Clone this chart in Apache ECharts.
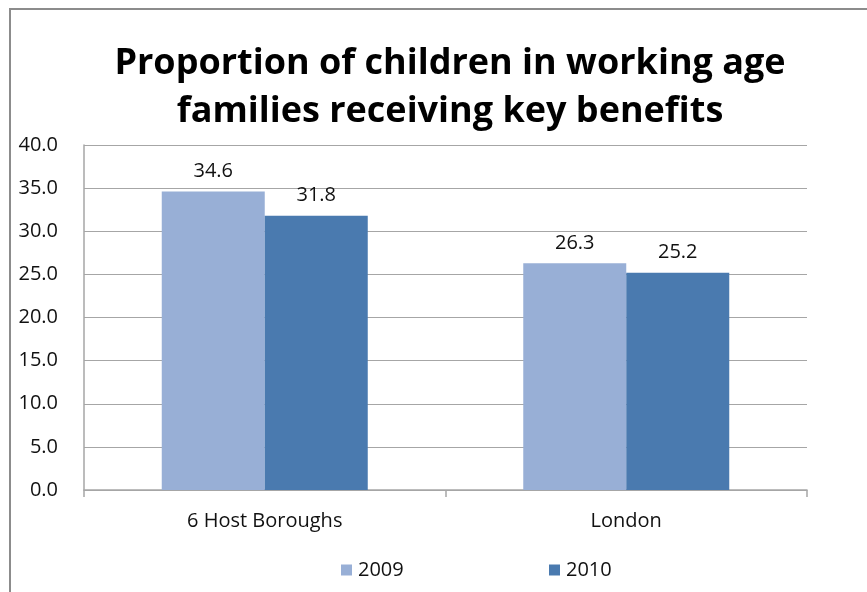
<!DOCTYPE html>
<html>
<head>
<meta charset="utf-8">
<script src="https://cdn.jsdelivr.net/npm/echarts@6/dist/echarts.min.js"></script>
<style>
  html, body { margin: 0; padding: 0; background: #fff; }
  #chart { width: 867px; height: 592px; }
</style>
</head>
<body>
<div id="chart"></div>
<script>
// data
const categories = ['6 Host Boroughs', 'London']
const years = ['2009', '2010']
const values2009 = [34.6, 26.3]
const values2010 = [31.8, 25.2]
const yTicks = { min: 0, max: 40, interval: 5 }

const colors = ['#98AFD6', '#4A7AAF']
const font = 'Open Sans, Liberation Sans, sans-serif'
const textColor = '#111'

const myChart = echarts.init(document.getElementById('chart'))

const labelStyle = {
  show: true,
  position: 'top',
  distance: 10,
  color: textColor,
  fontSize: 20,
  fontFamily: font,
  formatter: p => p.value.toFixed(1)
}

const legendText = { fontSize: 20, color: textColor, fontFamily: font, padding: [0, 0, 0, 1] }

const option = {
  backgroundColor: '#fff',
  animation: false,
  color: colors,
  title: {
    text: 'Proportion of children in working age\nfamilies receiving key benefits',
    left: 445,
    textAlign: 'center',
    top: 35,
    textStyle: { fontSize: 36, fontWeight: 'bold', color: '#000', fontFamily: font, lineHeight: 48 }
  },
  legend: [
    {
      data: [years[0]],
      left: 336, top: 555,
      itemWidth: 11, itemHeight: 11, icon: 'rect',
      textStyle: legendText
    },
    {
      data: [years[1]],
      left: 544, top: 555,
      itemWidth: 11, itemHeight: 11, icon: 'rect',
      textStyle: legendText
    }
  ],
  grid: { left: 84, right: 60, top: 145, bottom: 102, containLabel: false },
  xAxis: {
    type: 'category',
    data: categories,
    axisLine: { lineStyle: { color: '#a6a6a6', width: 1.5 } },
    axisTick: { show: true, length: 7, lineStyle: { color: '#a6a6a6', width: 1.5 } },
    axisLabel: { color: textColor, fontSize: 20, fontFamily: font, margin: 21 }
  },
  yAxis: {
    type: 'value',
    min: yTicks.min,
    max: yTicks.max,
    interval: yTicks.interval,
    axisLine: { show: true, lineStyle: { color: '#a6a6a6', width: 1.5 } },
    axisTick: { show: false },
    axisLabel: { color: textColor, fontSize: 20, fontFamily: font, margin: 26, formatter: v => v.toFixed(1) },
    splitLine: { lineStyle: { color: '#a6a6a6', width: 1.2 } }
  },
  graphic: [
    {
      type: 'rect',
      shape: { x: 10, y: 9, width: 900, height: 700 },
      style: { fill: 'none', stroke: '#8c8c8c', lineWidth: 2 },
      silent: true
    }
  ],
  series: [
    { name: years[0], type: 'bar', data: values2009, barWidth: 103, barGap: '0%', label: labelStyle },
    { name: years[1], type: 'bar', data: values2010, barWidth: 103, barGap: '0%', label: labelStyle }
  ]
}

myChart.setOption(option)
</script>
</body>
</html>
